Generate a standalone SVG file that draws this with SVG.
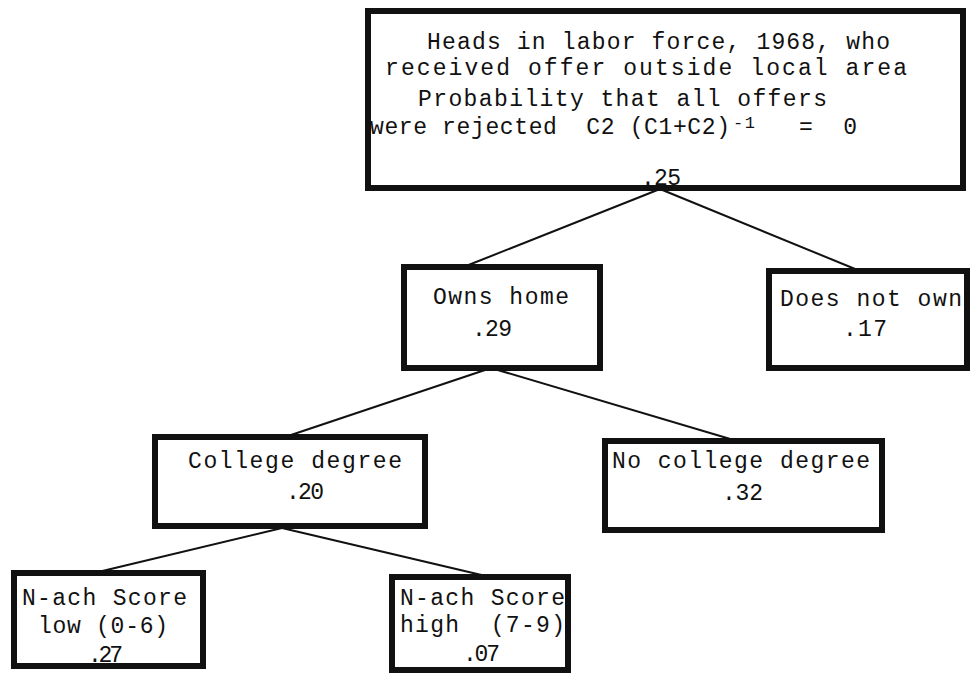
<svg xmlns="http://www.w3.org/2000/svg" width="971" height="676" viewBox="0 0 971 676">
<style>
.box{fill:#fff;stroke:#111;stroke-width:6}
.t{font-family:"Liberation Mono","DejaVu Sans Mono",monospace;font-size:23px;fill:#111}
.sup{font-size:17px}
.c{stroke:#111;stroke-width:2;fill:none}
</style>
<rect width="971" height="676" fill="#fff"/>
<g id="connectors">
<line class="c" x1="660" y1="189" x2="466" y2="266"/>
<line class="c" x1="660" y1="189" x2="860" y2="271"/>
<line class="c" x1="491" y1="368" x2="285" y2="437"/>
<line class="c" x1="491" y1="368" x2="737" y2="441"/>
<line class="c" x1="282" y1="528" x2="94" y2="573"/>
<line class="c" x1="282" y1="528" x2="490" y2="577"/>
</g>
<g id="root">
<rect class="box" x="368" y="11" width="595" height="177"/>
<text class="t" x="427" y="49" textLength="463">Heads in labor force, 1968, who</text>
<text class="t" x="385" y="75" textLength="522">received offer outside local area</text>
<text class="t" x="418" y="106" textLength="409">Probability that all offers</text>
<text class="t" x="370" y="134" textLength="360" xml:space="preserve">were rejected  C2 (C1+C2)</text>
<text class="t sup" x="733" y="128" textLength="22">-1</text>
<text class="t" x="799" y="134" textLength="58" xml:space="preserve">= 0</text>
<text class="t" x="641" y="185" textLength="40">.25</text>
</g>
<g id="owns-home">
<rect class="box" x="404" y="267" width="196" height="101"/>
<text class="t" x="433" y="304" textLength="136">Owns home</text>
<text class="t" x="472" y="336" textLength="40">.29</text>
</g>
<g id="does-not-own">
<rect class="box" x="769" y="271" width="198" height="97"/>
<text class="t" x="780" y="306" textLength="182">Does not own</text>
<text class="t" x="843" y="336" textLength="44">.17</text>
</g>
<g id="college-degree">
<rect class="box" x="155" y="437" width="270" height="89"/>
<text class="t" x="188" y="468" textLength="214">College degree</text>
<text class="t" x="286" y="499" textLength="38">.20</text>
</g>
<g id="no-college-degree">
<rect class="box" x="605" y="441" width="277" height="89"/>
<text class="t" x="612" y="468" textLength="258">No college degree</text>
<text class="t" x="722" y="500" textLength="41">.32</text>
</g>
<g id="nach-low">
<rect class="box" x="14" y="573" width="189" height="93"/>
<text class="t" x="22" y="605" textLength="165">N-ach Score</text>
<text class="t" x="38" y="633" textLength="130">low (0-6)</text>
<text class="t" x="88" y="662" textLength="35">.27</text>
</g>
<g id="nach-high">
<rect class="box" x="392" y="577" width="176" height="93"/>
<text class="t" x="400" y="605" textLength="165">N-ach Score</text>
<text class="t" x="400" y="632" textLength="165" xml:space="preserve">high  (7-9)</text>
<text class="t" x="463" y="661" textLength="37">.07</text>
</g>
</svg>
